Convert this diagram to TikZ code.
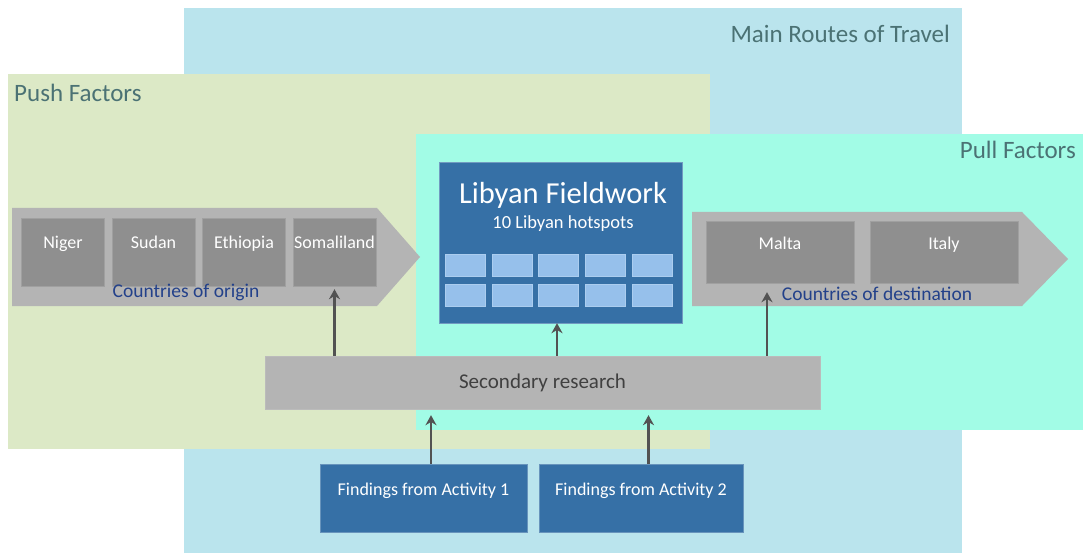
\documentclass[tikz,border=0pt]{standalone}
\usepackage{fontspec}
\setmainfont{Carlito}
\usepackage{tikz}
\usetikzlibrary{positioning, arrows.meta}
\pgfdeclarelayer{background}
\pgfsetlayers{background,main}
\definecolor{routesblue}{HTML}{BAE4ED}
\definecolor{pushgreen}{HTML}{DCE9C6}
\definecolor{pullaqua}{HTML}{A2FCE6}
\definecolor{chevrongray}{HTML}{B4B4B4}
\definecolor{countrygray}{HTML}{8F8F8F}
\definecolor{fieldblue}{HTML}{3670A6}
\definecolor{spotblue}{HTML}{96C0EB}
\definecolor{headtext}{HTML}{4B7274}
\definecolor{labelblue}{HTML}{23418A}
\definecolor{arrowgray}{HTML}{525252}
\tikzstyle{heading}     = [font=\fontsize{25}{28}\selectfont, text=headtext, inner sep=0pt]
\tikzstyle{country}     = [rectangle, minimum width=83pt, inner sep=0pt, text height=30pt, text depth=38pt, text=white, fill=countrygray, draw=countrygray!85!white, font=\fontsize{18}{20}\selectfont]
\tikzstyle{destination} = [country, minimum width=148pt, text height=28pt, text depth=34pt]
\tikzstyle{routelabel}  = [text=labelblue, inner sep=0pt, font=\fontsize{19.5}{22}\selectfont]
\tikzstyle{field}       = [rectangle, minimum width=243pt, minimum height=161pt, fill=fieldblue, draw=fieldblue!70!white]
\tikzstyle{spot}        = [rectangle, minimum width=40pt, minimum height=22pt, inner sep=0pt, fill=spotblue, draw=spotblue!80!white]
\tikzstyle{research}    = [rectangle, minimum width=555pt, minimum height=53pt, fill=chevrongray, draw=chevrongray!90!white, text=black!75, font=\fontsize{21}{24}\selectfont]
\tikzstyle{finding}     = [rectangle, minimum width=207pt, inner sep=0pt, text height=31pt, text depth=37pt, fill=fieldblue, draw=fieldblue!75!white, text=white, font=\fontsize{18}{20}\selectfont]
\tikzstyle{arrow}       = [line width=2.5pt, draw=arrowgray, -{Stealth[length=10pt, width=11pt]}]

\begin{document}
\begin{tikzpicture}[x=1pt, y=-1pt, node distance=90.5pt]
    \useasboundingbox (0,0) rectangle (1083,553);

    % regions
    \begin{pgfonlayer}{background}
      \fill [routesblue] (184,8) rectangle (962,553);
      \fill [pushgreen]  (8,74) rectangle (710,449);
      \fill [pullaqua]   (416,134) rectangle (1083,430);
    \end{pgfonlayer}
    \node (routeshead) [heading, anchor=base east] at (950,43)  {Main Routes of Travel};
    \node (pushhead)   [heading, anchor=base west] at (14,102)  {Push Factors};
    \node (pullhead)   [heading, anchor=base east] at (1076,159) {Pull Factors};

    % countries of origin
    \fill [chevrongray] (12,208) -- (377,208) -- (420,257) -- (377,306) -- (12,306) -- cycle;
    \node (niger)      [country] at (63,252) {Niger};
    \node (sudan)      [country, right of=niger] {Sudan};
    \node (ethiopia)   [country, right of=sudan] {Ethiopia};
    \node (somaliland) [country, right of=ethiopia] {Somaliland};
    \node (origin)     [routelabel] at (186,292) {Countries of origin};

    % countries of destination
    \fill [chevrongray] (692,212) -- (1022,212) -- (1068,259) -- (1022,306) -- (692,306) -- cycle;
    \node (malta) [destination] at (780,252) {Malta};
    \node (italy) [destination, right of=malta, xshift=73.5pt] {Italy};
    \node (destination) [routelabel] at (877,294) {Countries of destination};

    % fieldwork
    \node (libya) [field] at (560.5,242.5) {};
    \node (libyatitle) [text=white, font=\fontsize{30.5}{34}\selectfont] at (563,195) {Libyan Fieldwork};
    \node (libyasub)   [text=white, font=\fontsize{18.5}{21}\selectfont] at (563,224) {10 Libyan hotspots};
    \foreach \row in {0,1}
      \foreach \col in {0,...,4}
        \node (spot-\row-\col) [spot] at (465+46.8*\col, 265+30*\row) {};

    % research
    \node (secondary) [research] at (542.5,382.5) {Secondary research};
    \node (activity1) [finding] at (423.5,498) {Findings from Activity 1};
    \node (activity2) [finding, minimum width=204pt] at (641,498) {Findings from Activity 2};

    \draw [arrow, shorten >=3pt] (secondary.north -| somaliland.south) -- (somaliland.south);
    \draw [arrow] ([xshift=-3.5pt]secondary.north -| libya.south) -- ([xshift=-3.5pt]libya.south);
    \draw [arrow, shorten >=9pt] ([xshift=-13pt]secondary.north -| malta.south) -- ([xshift=-13pt]malta.south);
    \draw [arrow, shorten >=6pt] ([xshift=7.5pt]activity1.north) -- ([xshift=7.5pt]activity1.north |- secondary.south);
    \draw [arrow, shorten >=6pt] ([xshift=7.5pt]activity2.north) -- ([xshift=7.5pt]activity2.north |- secondary.south);

  \end{tikzpicture}
\end{document}
